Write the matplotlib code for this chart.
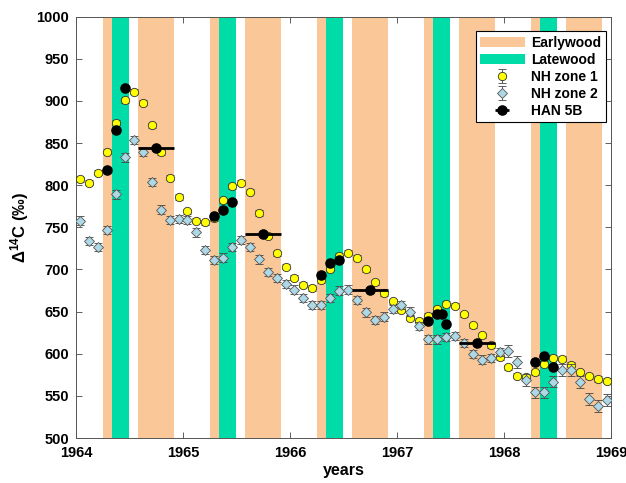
import numpy as np
import matplotlib
matplotlib.use("Agg")
import matplotlib.pyplot as plt
from matplotlib.patches import Patch

plt.rcParams['font.family'] = ['Liberation Sans', 'DejaVu Sans']
plt.rcParams['font.weight'] = 'bold'
plt.rcParams['mathtext.fontset'] = 'custom'
plt.rcParams['mathtext.rm'] = 'Liberation Sans:bold'
plt.rcParams['mathtext.it'] = 'Liberation Sans:bold'
plt.rcParams['mathtext.bf'] = 'Liberation Sans:bold'

# ---- data ----
years = [1964, 1965, 1966, 1967, 1968]
early1 = (0.25, 1 / 3)       # earlywood (spring) fraction of year
late = (1 / 3, 0.5)          # latewood fraction of year
early2 = (7 / 12, 11 / 12)   # earlywood (autumn) fraction of year

months = np.arange(60)
dates = 1964 + (months + 0.5) / 12

nh1 = [807, 803, 815, 840, 874, 901, 911, 898, 871, 839, 809, 786,
       769, 758, 756, 761, 782, 799, 803, 792, 767, 740, 719, 703,
       690, 682, 678, 687, 701, 716, 720, 714, 700, 685, 672, 662,
       652, 643, 639, 645, 653, 659, 657, 647, 634, 622, 610, 596,
       584, 574, 572, 578, 588, 595, 594, 587, 578, 573, 570, 568]
nh1_err = [3] * 60

nh2 = [758, 734, 727, 747, 789, 833, 854, 840, 804, 771, 759, 760,
       759, 744, 723, 711, 714, 727, 735, 727, 712, 697, 690, 683,
       676, 666, 658, 658, 666, 675, 676, 664, 649, 640, 644, 653,
       658, 650, 633, 617, 617, 620, 621, 613, 600, 593, 595, 602,
       603, 590, 569, 554, 554, 567, 581, 581, 566, 546, 538, 545]
nh2_err = [5] * 48 + [7] * 12

han_x = [1964.29, 1964.375, 1964.458, 1964.75,
         1965.29, 1965.375, 1965.458, 1965.75,
         1966.29, 1966.375, 1966.458, 1966.75,
         1967.29, 1967.375, 1967.417, 1967.458, 1967.75,
         1968.29, 1968.375, 1968.458]
han_y = [818, 865, 915, 844,
         764, 771, 780, 742,
         693, 708, 711, 676,
         639, 647, 647, 635, 613,
         590, 597, 584]
han_xerr = [0, 0, 0, 1 / 6,
            0, 0, 0, 1 / 6,
            0, 0, 0, 1 / 6,
            0, 0, 0, 0, 1 / 6,
            0, 0, 0]

early_color = '#FAC898'
late_color = '#00DCA8'

fig = plt.figure(figsize=(6.26, 4.83), dpi=100)
ax = fig.add_axes([76 / 626, 1 - 438 / 483, (611 - 76) / 626, (438 - 16.7) / 483])

for y in years:
    ax.axvspan(y + early1[0], y + early1[1], color=early_color, lw=0, zorder=0)
    ax.axvspan(y + late[0], y + late[1], color=late_color, lw=0, zorder=0)
    ax.axvspan(y + early2[0], y + early2[1], color=early_color, lw=0, zorder=0)

e1 = ax.errorbar(dates, nh1, yerr=nh1_err, fmt='o', ms=6,
                 mfc='#FFFF00', mec='#333333', mew=0.6, ecolor='#444444',
                 elinewidth=0.6, capsize=3, capthick=0.6, zorder=3,
                 label='NH zone 1')
e2 = ax.errorbar(dates, nh2, yerr=nh2_err, fmt='D', ms=5.2,
                 mfc='#ADD8E6', mec='#555555', mew=0.6, ecolor='#444444',
                 elinewidth=0.6, capsize=3, capthick=0.6, zorder=4,
                 label='NH zone 2')
e3 = ax.errorbar(han_x, han_y, xerr=han_xerr, fmt='o', ms=6.6,
                 mfc='black', mec='black', ecolor='black', elinewidth=2,
                 capsize=0, zorder=5, label='HAN 5B')

ax.set_xlim(1964, 1969)
ax.set_ylim(500, 1000)
ax.set_xticks(years + [1969])
ax.set_xticklabels([str(v) for v in years + [1969]])
ax.set_yticks(np.arange(500, 1001, 50))
ax.tick_params(direction='in', top=True, right=True, length=4, width=0.6,
               labelsize=10.5, color='#444444')
ax.tick_params(axis='x', pad=6)
ax.tick_params(axis='y', pad=5)
for lab in ax.get_xticklabels() + ax.get_yticklabels():
    lab.set_fontweight('bold')
for s in ax.spines.values():
    s.set_linewidth(0.7)
    s.set_color('#555555')

ax.set_xlabel('years', fontsize=11.5, fontweight='bold', labelpad=2)
ax.set_ylabel(r'$\Delta^{14}$C (‰)', fontsize=12, fontweight='bold', labelpad=4)

handles = [Patch(facecolor=early_color, edgecolor='none', label='Earlywood'),
           Patch(facecolor=late_color, edgecolor='none', label='Latewood'),
           e1, e2, e3]
leg = ax.legend(handles=handles, loc='upper right', bbox_to_anchor=(0.998, 0.975),
                fontsize=10, frameon=True, fancybox=False, framealpha=1,
                edgecolor='black', handlelength=3.2, handletextpad=0.5,
                borderpad=0.3, labelspacing=0.22, borderaxespad=0.3)
leg.get_frame().set_linewidth(0.8)
for t in leg.get_texts():
    t.set_fontweight('bold')

fig.savefig('out.png', dpi=100)
